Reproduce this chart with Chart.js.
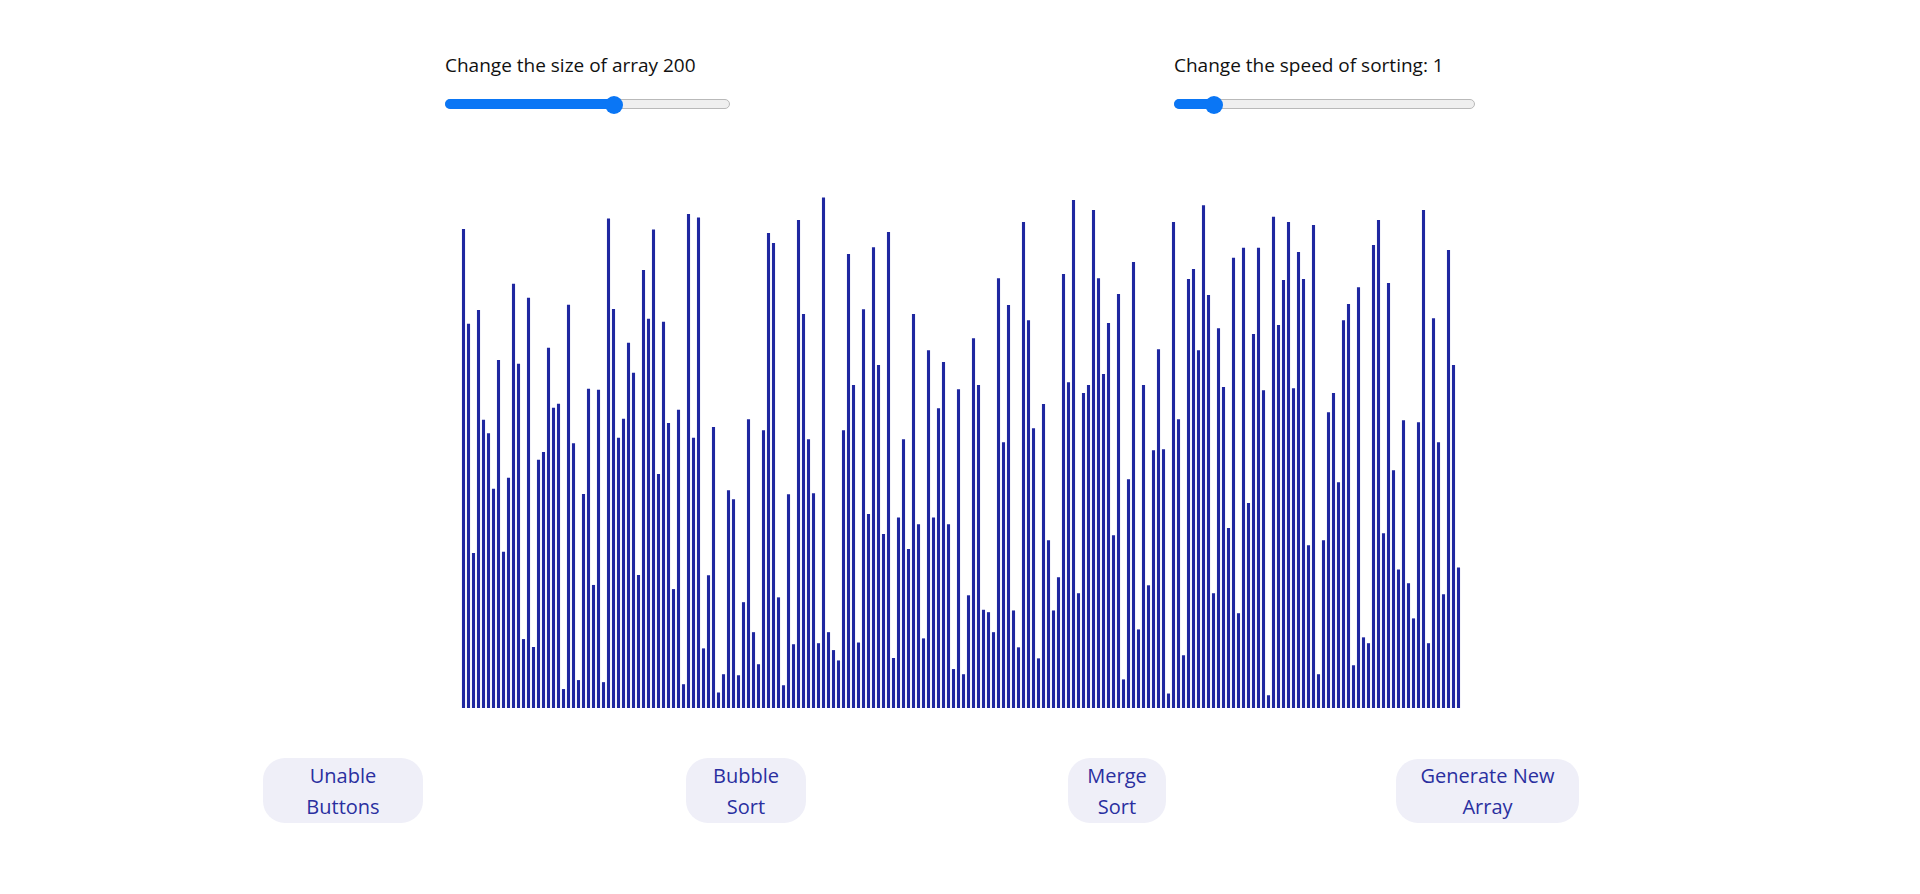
<!DOCTYPE html>
<html>
<head>
<meta charset="utf-8">
<script src="https://cdn.jsdelivr.net/npm/chart.js"></script>
<style>
body{margin:0;background:#fff;font-family:"Open Sans",sans-serif;}
.wrap{position:relative;width:1920px;height:894px;}
.lbl{position:absolute;font-size:19px;color:#111;}
.slider{position:absolute;height:10px;border-radius:5px;background:#efefef;border:1px solid #b9b9b9;box-sizing:border-box;}
.fill{position:absolute;left:-1px;top:-1px;height:10px;border-radius:5px;background:#0a76f5;}
.thumb{position:absolute;top:-4px;width:18px;height:18px;border-radius:50%;background:#0a76f5;margin-left:-9px;}
#cv{position:absolute;left:461px;top:191px;}
.btn{position:absolute;background:#efeff8;color:#2a2fa0;border-radius:22px;font-size:20px;line-height:31px;text-align:center;display:flex;align-items:center;justify-content:center;}
</style>
</head>
<body>
<div class="wrap">
<div class="lbl" style="left:445px;top:52px;">Change the size of array 200</div>
<div class="slider" style="left:445px;top:99px;width:285px;"><div class="fill" style="width:169px"></div><div class="thumb" style="left:168px"></div></div>
<div class="lbl" style="left:1174px;top:52px;">Change the speed of sorting: 1</div>
<div class="slider" style="left:1174px;top:99px;width:301px;"><div class="fill" style="width:40px"></div><div class="thumb" style="left:39px"></div></div>
<canvas id="cv" width="1000" height="517"></canvas>
<div class="btn" style="left:263px;top:758px;width:160px;height:65px;">Unable<br>Buttons</div>
<div class="btn" style="left:686px;top:758px;width:120px;height:65px;">Bubble<br>Sort</div>
<div class="btn" style="left:1068px;top:758px;width:98px;height:65px;">Merge<br>Sort</div>
<div class="btn" style="left:1396px;top:759px;width:183px;height:64px;">Generate New<br>Array</div>
</div>
<script>
// array values (200 bars)
const arr1 = [1390,1115,450,1155,836,797,636,1010,453,668,1231,999,200,1190,177,720,743,1045,871,883,55,1170,768,81,621,926,357,923,75,1420,1158,784,839,1060,973,386,1271,1129,1388,679,1121,827,345,865,69,1433,784,1423];
const arr2 = [173,385,815,45,98,632,606,95,307,838,220,127,806,1378,1349,321,66,620,185,1416,1143,780,623,188,1481,220,168,138,806,1317,937,190,1157,563,1337,995,505,1381,145,553,780,461,1143,533,202,1038,553,870,1004,533];
const arr3 = [113,925,98,327,1073,937,285,278,220,1247,771,1169,283,176,1410,1125,812,144,882,487,283,379,1259,945,1474,333,914,937,1445,1247,969,1117,501,1201,83,664,1294,228,937,356,748,1041,751,42,1410,838,153,1245,1274,1038];
const arr4 = [1459,1198,333,1102,931,522,1306,275,1335,595,1085,1335,922,37,1425,1111,1242,1410,928,1323,1245,472,1401,98,487,858,914,655,1125,1172,124,1221,205,188,1343,1416,507,1233,690,402,835,362,260,829,1445,188,1131,771,330,1329,995,408];
const values = arr1.concat(arr2, arr3, arr4);
const labels = values.map((v, i) => i);

new Chart(document.getElementById('cv'), {
    type: 'bar',
    data: {
        labels: labels,
        datasets: [{
            data: values,
            backgroundColor: '#1f27a0',
            barPercentage: 1,
            categoryPercentage: 0.62
        }]
    },
    options: {
        responsive: false,
        animation: false,
        layout: {padding: 0},
        plugins: {legend: {display: false}, tooltip: {enabled: false}},
        scales: {
            x: {display: false},
            y: {display: false, min: 0, max: 1500}
        }
    }
});
</script>
</body>
</html>
